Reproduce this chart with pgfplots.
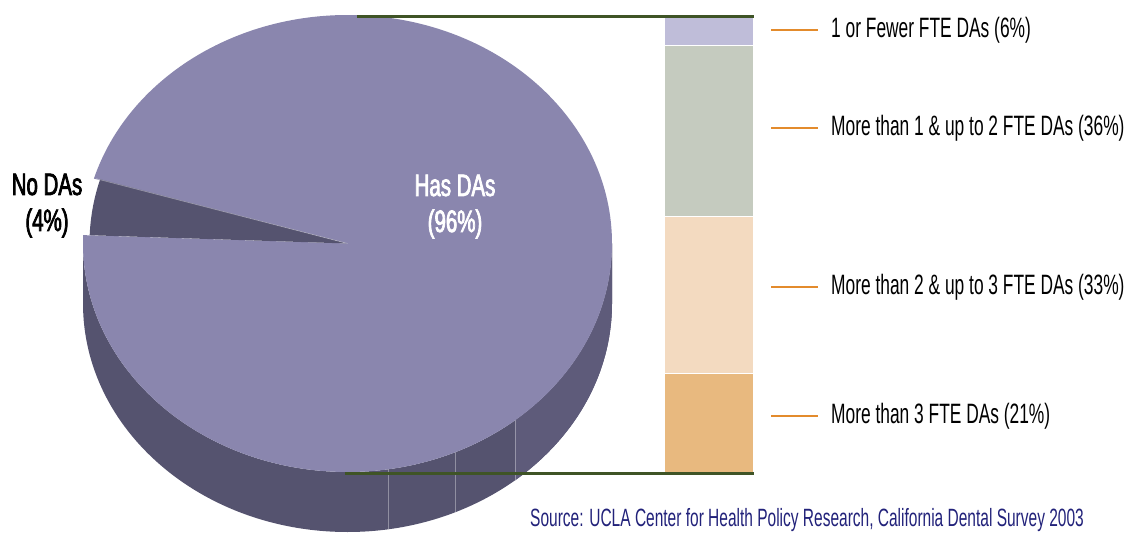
\documentclass[border=0pt]{standalone}
\usepackage{pgfplots}
\pgfplotsset{compat=1.18}
\usepackage{fontspec}
\setmainfont{Liberation Sans}
\newfontfamily\cond[FakeStretch=0.62]{Liberation Sans}
\newfontfamily\condp[FakeStretch=0.66,FakeBold=2.4]{Liberation Sans}
\definecolor{pietop}{HTML}{8A86AE}
\definecolor{sidedark}{HTML}{55536F}
\definecolor{sidelight}{HTML}{5E5B7A}
\definecolor{segA}{HTML}{BFBDD9}
\definecolor{segB}{HTML}{C5CBBF}
\definecolor{segC}{HTML}{F3DAC0}
\definecolor{segD}{HTML}{E8B97F}
\definecolor{greenline}{HTML}{3F5426}
\definecolor{orangeline}{HTML}{E38B2C}
\definecolor{navy}{HTML}{22227A}

% pie data (percent)
\def\pieNo{4}
\def\pieHas{96}
\pgfmathsetmacro{\aStart}{163.5}
\pgfmathsetmacro{\aMid}{\aStart+3.6*\pieNo}
\pgfmathsetmacro{\aEnd}{\aMid+3.6*\pieHas}

\begin{document}
\begin{tikzpicture}
\useasboundingbox (0,0) rectangle (1129pt,533pt);
\clip (0,0) rectangle (1129pt,533pt);
\begin{axis}[
  name=main, at={(0pt,0pt)}, anchor=south west,
  scale only axis, width=1129pt, height=533pt,
  xmin=0, xmax=1129, ymin=0, ymax=533,
  hide axis, clip=false]
  % side of the pie
  \fill[sidedark] (axis cs:83,289.5) -- (axis cs:83,229.5)
     arc[start angle=180,end angle=360,x radius=264.5pt,y radius=228.5pt]
     -- (axis cs:612,289.5)
     arc[start angle=0,end angle=-180,x radius=264.5pt,y radius=228.5pt] -- cycle;
  \begin{scope}
    \clip (axis cs:515,0) rectangle (axis cs:700,533);
    \fill[sidelight] (axis cs:83,289.5) -- (axis cs:83,229.5)
     arc[start angle=180,end angle=360,x radius=264.5pt,y radius=228.5pt]
     -- (axis cs:612,289.5)
     arc[start angle=0,end angle=-180,x radius=264.5pt,y radius=228.5pt] -- cycle;
  \end{scope}
  \draw[white,opacity=0.35,line width=0.8pt] (axis cs:388,63.7) -- (axis cs:388,3.7);
  \draw[white,opacity=0.35,line width=0.8pt] (axis cs:455,80.7) -- (axis cs:455,20.7);
  \draw[white,opacity=0.35,line width=0.8pt] (axis cs:515,112.6) -- (axis cs:515,52.6);
  % top of the pie: "Has DAs" slice
  \fill[pietop] (axis cs:347.5,289.5) -- ++(\aMid:264.5pt and 228.5pt)
     arc[start angle=\aMid,end angle=\aEnd,x radius=264.5pt,y radius=228.5pt] -- cycle;
  % "No DAs" slice
  \fill[sidedark] (axis cs:347.5,289.5) -- ++(\aStart:258pt and 226pt)
     arc[start angle=\aStart,end angle=\aMid,x radius=258pt,y radius=226pt] -- cycle;
  \draw[white,opacity=0.4,line width=0.6pt] (axis cs:347.5,289.5) -- ++(\aStart:262pt and 228pt);
  % legend lines
  \draw[orangeline,line width=2.5pt] (axis cs:771,503) -- (axis cs:818,503);
  \draw[orangeline,line width=2.5pt] (axis cs:771,405) -- (axis cs:818,405);
  \draw[orangeline,line width=2.5pt] (axis cs:771,246) -- (axis cs:818,246);
  \draw[orangeline,line width=2.5pt] (axis cs:771,117) -- (axis cs:818,117);
  \node[anchor=west,inner sep=0pt] at (axis cs:831,503) {\cond\fontsize{28}{30}\selectfont 1 or Fewer FTE DAs (6\%)};
  \node[anchor=west,inner sep=0pt] at (axis cs:831,405) {\cond\fontsize{28}{30}\selectfont More than 1 \& up to 2 FTE DAs (36\%)};
  \node[anchor=west,inner sep=0pt] at (axis cs:831,246) {\cond\fontsize{28}{30}\selectfont More than 2 \& up to 3 FTE DAs (33\%)};
  \node[anchor=west,inner sep=0pt] at (axis cs:831,117) {\cond\fontsize{28}{30}\selectfont More than 3 FTE DAs (21\%)};
  % pie labels
  \node[anchor=base,inner sep=0pt] at (axis cs:47,338) {\condp\fontsize{31}{34}\selectfont No DAs};
  \node[anchor=base,inner sep=0pt] at (axis cs:47,302) {\condp\fontsize{31}{34}\selectfont (4\%)};
  \node[anchor=base,inner sep=0pt,white] at (axis cs:455,337) {\condp\fontsize{31}{34}\selectfont Has DAs};
  \node[anchor=base,inner sep=0pt,white] at (axis cs:455,301) {\condp\fontsize{31}{34}\selectfont (96\%)};
  % source
  \node[anchor=base west,inner sep=0pt,navy] at (axis cs:530,7) {\cond\fontsize{25}{28}\selectfont Source: UCLA Center for Health Policy Research, California Dental Survey 2003};
\end{axis}
\begin{axis}[
  at={(664pt,60pt)}, anchor=south west,
  scale only axis, width=90pt, height=456pt,
  xmin=0, xmax=1, ymin=0, ymax=96,
  hide axis, clip=false,
  ybar stacked, bar width=90pt]
  \addplot[fill=segD,draw=white,line width=1.5pt] coordinates {(0.5,21)};
  \addplot[fill=segC,draw=white,line width=1.5pt] coordinates {(0.5,33)};
  \addplot[fill=segB,draw=white,line width=1.5pt] coordinates {(0.5,36)};
  \addplot[fill=segA,draw=white,line width=1.5pt] coordinates {(0.5,6)};
\end{axis}
\draw[greenline,line width=3pt] (357pt,516pt) -- (754pt,516pt);
\draw[greenline,line width=3pt] (345pt,60pt) -- (754pt,60pt);
\end{tikzpicture}
\end{document}
